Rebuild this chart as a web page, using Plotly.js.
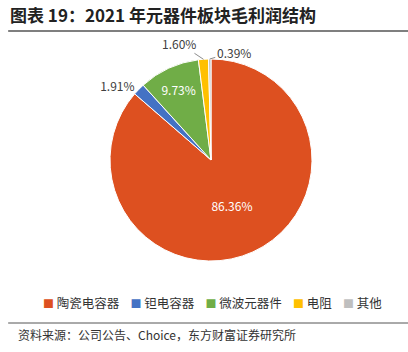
<!DOCTYPE html>
<html><head><meta charset="utf-8">
<script src="https://cdn.plot.ly/plotly-3.0.1.min.js"></script>
<style>body{margin:0;background:#fff}#chart{width:408px;height:352px}</style>
</head><body><div id="chart"></div>
<script>
const categories = ['陶瓷电容器','钽电容器','微波元器件','电阻','其他'];
const shares = [86.36, 1.91, 9.73, 1.60, 0.39];
const colors = ['#DD5020','#4472C4','#70AD47','#FFC000','#BFBFBF'];
const labelPos = ['inside','outside','inside','none','none'];
const titleText = '图表 19：2021 年元器件板块毛利润结构';
const sourceText = '资料来源：公司公告、Choice，东方财富证券研究所';
const font = '"Noto Sans CJK SC", "Noto Sans", sans-serif';

const W = 408, H = 352;
const dom = {x: [0.2696, 0.7647], y: [0.2585, 0.8324]};

const trace = {
  type: 'pie',
  labels: categories,
  values: shares,
  sort: false,
  direction: 'clockwise',
  rotation: 0,
  marker: {colors: colors, line: {color: '#ffffff', width: 1}},
  texttemplate: '%{value:.2f}%',
  textposition: labelPos,
  insidetextorientation: 'horizontal',
  insidetextfont: {color: '#ffffff', size: 12, family: font},
  outsidetextfont: {color: '#404040', size: 12, family: font},
  hoverinfo: 'none',
  domain: dom,
  automargin: false,
  showlegend: false
};

// leader-line labels for the thin slices, anchored on the slice edge mid-angle
const total = shares.reduce((a, b) => a + b, 0);
const cxp = (dom.x[0] + dom.x[1]) / 2, cyp = (dom.y[0] + dom.y[1]) / 2;
const rPx = Math.min((dom.x[1] - dom.x[0]) * W, (dom.y[1] - dom.y[0]) * H) / 2;
const offsets = {3: [-24, -16], 4: [24, -7]};
const sliceAnns = [];
let cum = 0;
shares.forEach((v, i) => {
  const mid = (cum + v / 2) / total * 2 * Math.PI;
  cum += v;
  if (labelPos[i] !== 'none') return;
  const px = cxp + rPx * Math.sin(mid) / W;
  const py = cyp + rPx * Math.cos(mid) / H;
  sliceAnns.push({
    text: v.toFixed(2) + '%', xref: 'paper', yref: 'paper', x: px, y: py,
    showarrow: true, arrowhead: 0, arrowwidth: 1, arrowcolor: '#8c8c8c',
    ax: offsets[i][0], ay: offsets[i][1], standoff: 0,
    font: {size: 12, family: font, color: '#404040'}
  });
});

// legend as text built from categories and colours
const legendText = categories.map((c, i) =>
  '<span style="color:' + colors[i] + ';font-size:11px">■</span>&nbsp;' + c).join('&nbsp;&nbsp;&nbsp;&nbsp;');

const layout = {
  width: W, height: H,
  margin: {l: 0, r: 0, t: 0, b: 0},
  paper_bgcolor: '#ffffff',
  font: {family: font, color: '#333333'},
  showlegend: false,
  annotations: [
    {text: '<b>' + titleText + '</b>', xref: 'paper', yref: 'paper', x: 0.02, y: 1 - 15/H,
     xanchor: 'left', yanchor: 'middle', showarrow: false, font: {size: 17, family: font, color: '#222222'}},
    {text: sourceText, xref: 'paper', yref: 'paper', x: 0.04, y: 1 - 334/H,
     xanchor: 'left', yanchor: 'middle', showarrow: false, font: {size: 12, family: font, color: '#333333'}},
    {text: legendText, xref: 'paper', yref: 'paper', x: 0.52, y: 1 - 302/H,
     xanchor: 'center', yanchor: 'middle', showarrow: false, font: {size: 12.5, family: font, color: '#333333'}}
  ].concat(sliceAnns),
  shapes: [
    {type: 'line', xref: 'paper', yref: 'paper', x0: 0.02, x1: 1, y0: 1 - 31/H, y1: 1 - 31/H,
     line: {color: '#555555', width: 1.5}},
    {type: 'line', xref: 'paper', yref: 'paper', x0: 0.02, x1: 1, y0: 1 - 323/H, y1: 1 - 323/H,
     line: {color: '#555555', width: 1}}
  ]
};

Plotly.newPlot('chart', [trace], layout, {staticPlot: true, displayModeBar: false});
</script></body></html>
